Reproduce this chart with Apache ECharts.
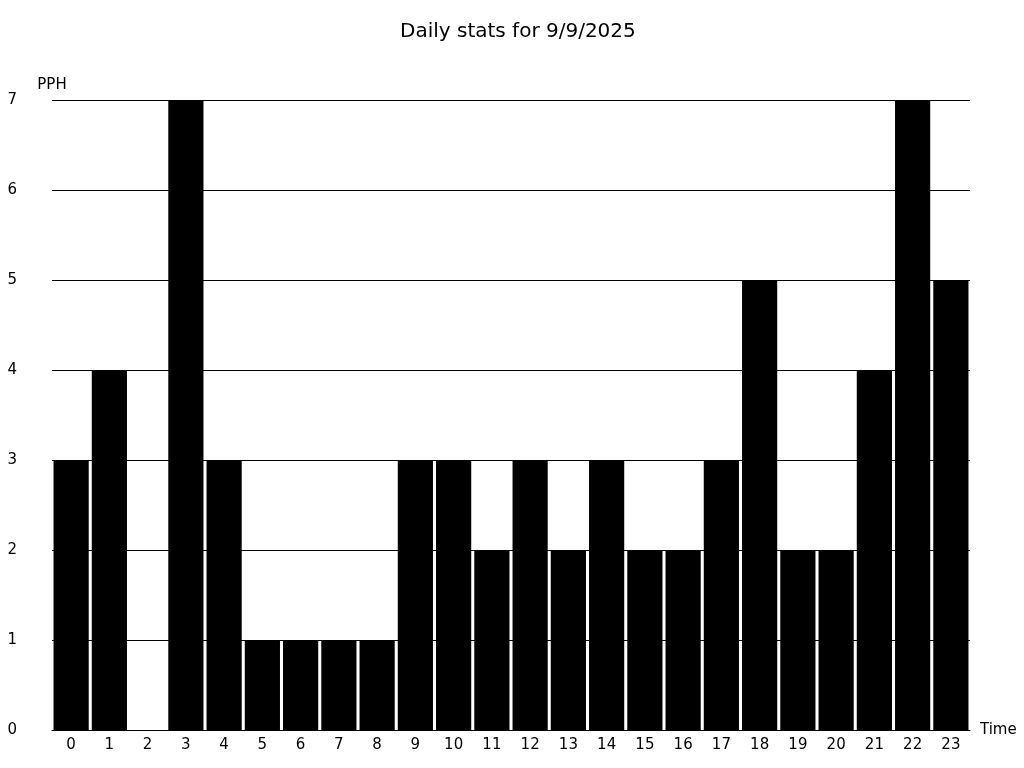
<!DOCTYPE html>
<html>
<head>
<meta charset="utf-8">
<script src="https://cdn.jsdelivr.net/npm/echarts@6/dist/echarts.min.js"></script>
<style>
  html, body { margin: 0; padding: 0; background: #fff; }
  #chart { width: 1024px; height: 768px; }
</style>
</head>
<body>
<div id="chart"></div>
<script>
// hours of the day
var hours = ['0', '1', '2', '3', '4', '5', '6', '7', '8', '9', '10', '11',
  '12', '13', '14', '15', '16', '17', '18', '19', '20', '21', '22', '23'];
// parts per hour
var pph = [3, 4, 0, 7, 3, 1, 1, 1, 1, 3, 3, 2, 3, 2, 3, 2, 2, 3, 5, 2, 2, 4, 7, 5];

var font = 'DejaVu Sans';
var chart = echarts.init(document.getElementById('chart'));
chart.setOption({
  animation: false,
  backgroundColor: '#fff',
  textStyle: { fontFamily: font },
  title: {
    text: 'Daily stats for 9/9/2025',
    left: 395,
    top: 17,
    textStyle: { fontFamily: font, fontSize: 20, fontWeight: 'normal', color: '#000' }
  },
  grid: { left: 52, right: 54, top: 100, bottom: 38 },
  xAxis: {
    type: 'category',
    data: hours,
    name: 'Time',
    nameGap: 10,
    nameTextStyle: { fontFamily: font, fontSize: 15, color: '#000' },
    axisLine: { lineStyle: { color: '#000', width: 1 } },
    axisTick: { show: false },
    axisLabel: { fontFamily: font, fontSize: 15, color: '#000', margin: 8 }
  },
  yAxis: {
    type: 'value',
    min: 0,
    max: 7,
    interval: 1,
    name: 'PPH',
    nameGap: 7,
    nameTextStyle: { fontFamily: font, fontSize: 15, color: '#000' },
    axisLine: { show: false },
    axisTick: { show: false },
    axisLabel: { fontFamily: font, fontSize: 15, color: '#000', margin: 35 },
    splitLine: { lineStyle: { color: '#000', width: 1 } }
  },
  series: [{
    type: 'bar',
    data: pph,
    barCategoryGap: '8%',
    itemStyle: { color: '#000' }
  }]
});
</script>
</body>
</html>
